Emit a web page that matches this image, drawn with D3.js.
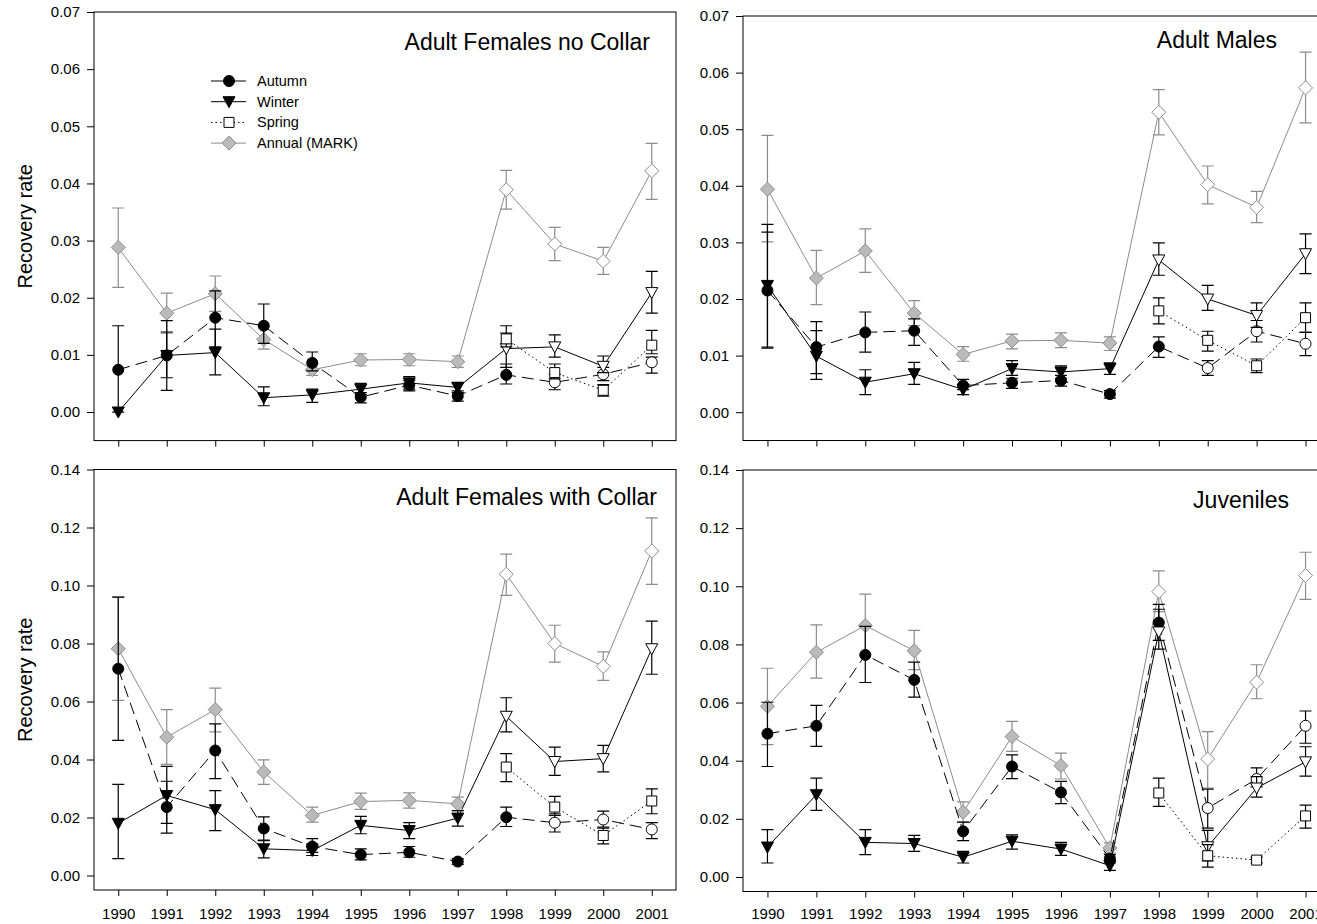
<!DOCTYPE html>
<html>
<head>
<meta charset="utf-8">
<script src="https://cdnjs.cloudflare.com/ajax/libs/d3/7.8.5/d3.min.js"></script>
<style>
    body { margin: 0; background: #fff; }
    svg { display: block; font-family: 'Liberation Sans', Arial, sans-serif; }
</style>
</head>
<body>
<svg id="chart" width="1317" height="924"></svg>
<script>
/* globals d3 */

'use strict';

var years = [1990, 1991, 1992, 1993, 1994, 1995, 1996, 1997, 1998, 1999, 2000, 2001];

// Adult females, no collar
var afncAutumn   = [0.0074, 0.0099, 0.0165, 0.0151, 0.0086, 0.0026, 0.0047, 0.0028, 0.0065, 0.0052, 0.0066, 0.0087];
var afncAutumnLo = [0.0000, 0.0038, 0.0114, 0.0120, 0.0072, 0.0016, 0.0037, 0.0019, 0.0049, 0.0039, 0.0055, 0.0068];
var afncAutumnHi = [0.0151, 0.0160, 0.0212, 0.0189, 0.0105, 0.0034, 0.0055, 0.0037, 0.0084, 0.0066, 0.0078, 0.0096];
var afncWinter   = [0.0000, 0.0099, 0.0104, 0.0025, 0.0030, 0.0040, 0.0051, 0.0043, 0.0111, 0.0114, 0.0080, 0.0209];
var afncWinterLo = [0.0000, 0.0060, 0.0065, 0.0011, 0.0017, 0.0031, 0.0040, 0.0034, 0.0078, 0.0096, 0.0069, 0.0173];
var afncWinterHi = [0.0000, 0.0140, 0.0145, 0.0044, 0.0040, 0.0050, 0.0062, 0.0052, 0.0151, 0.0135, 0.0098, 0.0246];
var afncSpring   = [null, null, null, null, null, null, null, null, 0.0128, 0.0069, 0.0038, 0.0117];
var afncSpringLo = [null, null, null, null, null, null, null, null, 0.0114, 0.0058, 0.0028, 0.0102];
var afncSpringHi = [null, null, null, null, null, null, null, null, 0.0138, 0.0084, 0.0048, 0.0143];
var afncAnnual   = [0.0288, 0.0173, 0.0207, 0.0127, 0.0074, 0.0091, 0.0092, 0.0088, 0.0389, 0.0294, 0.0264, 0.0422];
var afncAnnualLo = [0.0218, 0.0138, 0.0176, 0.0110, 0.0064, 0.0081, 0.0081, 0.0078, 0.0355, 0.0265, 0.0241, 0.0372];
var afncAnnualHi = [0.0357, 0.0208, 0.0238, 0.0151, 0.0084, 0.0102, 0.0102, 0.0098, 0.0423, 0.0323, 0.0288, 0.0470];

// Adult males
var amAutumn   = [0.0215, 0.0115, 0.0141, 0.0144, 0.0047, 0.0052, 0.0056, 0.0032, 0.0116, 0.0078, 0.0143, 0.0121];
var amAutumnLo = [0.0113, 0.0068, 0.0106, 0.0118, 0.0040, 0.0042, 0.0046, 0.0025, 0.0097, 0.0065, 0.0124, 0.0100];
var amAutumnHi = [0.0318, 0.0160, 0.0177, 0.0165, 0.0058, 0.0060, 0.0065, 0.0038, 0.0133, 0.0091, 0.0162, 0.0141];
var amWinter   = [0.0224, 0.0099, 0.0053, 0.0068, 0.0040, 0.0077, 0.0071, 0.0077, 0.0269, 0.0200, 0.0171, 0.0280];
var amWinterLo = [0.0115, 0.0058, 0.0031, 0.0049, 0.0031, 0.0065, 0.0060, 0.0067, 0.0242, 0.0180, 0.0150, 0.0245];
var amWinterHi = [0.0332, 0.0144, 0.0075, 0.0088, 0.0049, 0.0091, 0.0082, 0.0087, 0.0299, 0.0224, 0.0193, 0.0315];
var amSpring   = [null, null, null, null, null, null, null, null, 0.0179, 0.0127, 0.0082, 0.0167];
var amSpringLo = [null, null, null, null, null, null, null, null, 0.0156, 0.0108, 0.0070, 0.0141];
var amSpringHi = [null, null, null, null, null, null, null, null, 0.0202, 0.0143, 0.0094, 0.0193];
var amAnnual   = [0.0394, 0.0237, 0.0285, 0.0175, 0.0102, 0.0126, 0.0127, 0.0122, 0.0530, 0.0402, 0.0362, 0.0573];
var amAnnualLo = [0.0301, 0.0190, 0.0247, 0.0153, 0.0090, 0.0112, 0.0114, 0.0109, 0.0490, 0.0368, 0.0335, 0.0511];
var amAnnualHi = [0.0489, 0.0286, 0.0324, 0.0197, 0.0116, 0.0138, 0.0140, 0.0133, 0.0570, 0.0435, 0.0390, 0.0636];

// Adult females with collar
var afcAutumn   = [0.0713, 0.0236, 0.0431, 0.0162, 0.0100, 0.0072, 0.0080, 0.0048, 0.0201, 0.0182, 0.0193, 0.0159];
var afcAutumnLo = [0.0466, 0.0146, 0.0334, 0.0122, 0.0080, 0.0054, 0.0063, 0.0038, 0.0169, 0.0150, 0.0167, 0.0127];
var afcAutumnHi = [0.0960, 0.0376, 0.0523, 0.0202, 0.0127, 0.0092, 0.0100, 0.0058, 0.0236, 0.0213, 0.0222, 0.0182];
var afcWinter   = [0.0180, 0.0276, 0.0227, 0.0092, 0.0086, 0.0173, 0.0155, 0.0198, 0.0549, 0.0393, 0.0403, 0.0782];
var afcWinterLo = [0.0058, 0.0180, 0.0155, 0.0061, 0.0069, 0.0144, 0.0127, 0.0170, 0.0495, 0.0345, 0.0357, 0.0694];
var afcWinterHi = [0.0314, 0.0325, 0.0293, 0.0120, 0.0109, 0.0204, 0.0182, 0.0224, 0.0613, 0.0443, 0.0449, 0.0877];
var afcSpring   = [null, null, null, null, null, null, null, null, 0.0374, 0.0236, 0.0138, 0.0257];
var afcSpringLo = [null, null, null, null, null, null, null, null, 0.0324, 0.0207, 0.0109, 0.0213];
var afcSpringHi = [null, null, null, null, null, null, null, null, 0.0420, 0.0273, 0.0163, 0.0299];
var afcAnnual   = [0.0782, 0.0477, 0.0572, 0.0357, 0.0207, 0.0255, 0.0259, 0.0247, 0.1039, 0.0800, 0.0721, 0.1119];
var afcAnnualLo = [0.0604, 0.0383, 0.0495, 0.0314, 0.0184, 0.0228, 0.0232, 0.0224, 0.0966, 0.0736, 0.0673, 0.1004];
var afcAnnualHi = [0.0960, 0.0572, 0.0646, 0.0399, 0.0236, 0.0284, 0.0285, 0.0270, 0.1108, 0.0863, 0.0771, 0.1233];

// Juveniles
var juvAutumn   = [0.0493, 0.0520, 0.0764, 0.0678, 0.0157, 0.0380, 0.0291, 0.0063, 0.0875, 0.0237, 0.0337, 0.0520];
var juvAutumnLo = [0.0380, 0.0449, 0.0669, 0.0619, 0.0125, 0.0338, 0.0252, 0.0048, 0.0814, 0.0168, 0.0310, 0.0460];
var juvAutumnHi = [0.0601, 0.0590, 0.0862, 0.0739, 0.0189, 0.0420, 0.0329, 0.0077, 0.0938, 0.0302, 0.0375, 0.0571];
var juvWinter   = [0.0103, 0.0283, 0.0119, 0.0115, 0.0068, 0.0123, 0.0096, 0.0039, 0.0843, 0.0104, 0.0306, 0.0396];
var juvWinterLo = [0.0048, 0.0229, 0.0077, 0.0088, 0.0048, 0.0096, 0.0074, 0.0023, 0.0784, 0.0055, 0.0275, 0.0347];
var juvWinterHi = [0.0163, 0.0340, 0.0163, 0.0143, 0.0088, 0.0145, 0.0119, 0.0054, 0.0921, 0.0160, 0.0345, 0.0448];
var juvSpring   = [null, null, null, null, null, null, null, null, 0.0289, 0.0073, 0.0058, 0.0210];
var juvSpringLo = [null, null, null, null, null, null, null, null, 0.0243, 0.0034, 0.0048, 0.0168];
var juvSpringHi = [null, null, null, null, null, null, null, null, 0.0340, 0.0111, 0.0068, 0.0247];
var juvAnnual   = [0.0587, 0.0773, 0.0865, 0.0778, 0.0223, 0.0483, 0.0383, 0.0100, 0.0982, 0.0406, 0.0670, 0.1037];
var juvAnnualLo = [0.0455, 0.0684, 0.0765, 0.0713, 0.0189, 0.0432, 0.0337, 0.0082, 0.0913, 0.0306, 0.0613, 0.0955];
var juvAnnualHi = [0.0718, 0.0867, 0.0973, 0.0848, 0.0258, 0.0535, 0.0426, 0.0117, 0.1053, 0.0500, 0.0730, 0.1117];

// draw order: annual underneath, then the seasons
var seriesStyles = [
    { key: 'annual', name: 'Annual (MARK)', shape: 'diamond', color: '#8c8c8c', fill: '#bababa', dash: null, openFrom: 1998 },
    { key: 'autumn', name: 'Autumn', shape: 'circle', color: '#000', fill: '#000', dash: '12,6', openFrom: 1999 },
    { key: 'winter', name: 'Winter', shape: 'triangle', color: '#000', fill: '#000', dash: null, openFrom: 1998 },
    { key: 'spring', name: 'Spring', shape: 'square', color: '#000', fill: '#fff', dash: '1.5,3', openFrom: 1990 }
];
var legendOrder = ['autumn', 'winter', 'spring', 'annual'];

var panels = [
    {
        title: 'Adult Females no Collar', titleX: 650, titleY: 50,
        left: 94, right: 676, top: 12, bottom: 440.6, yMax: 0.07, yStep: 0.01,
        yTitle: true, xLabels: false, legend: true,
        autumn: [afncAutumn, afncAutumnLo, afncAutumnHi],
        winter: [afncWinter, afncWinterLo, afncWinterHi],
        spring: [afncSpring, afncSpringLo, afncSpringHi],
        annual: [afncAnnual, afncAnnualLo, afncAnnualHi]
    },
    {
        title: 'Adult Males', titleX: 1277, titleY: 48,
        left: 743, right: 1330, top: 16, bottom: 440.5, yMax: 0.07, yStep: 0.01,
        yTitle: false, xLabels: false, legend: false,
        autumn: [amAutumn, amAutumnLo, amAutumnHi],
        winter: [amWinter, amWinterLo, amWinterHi],
        spring: [amSpring, amSpringLo, amSpringHi],
        annual: [amAnnual, amAnnualLo, amAnnualHi]
    },
    {
        title: 'Adult Females with Collar', titleX: 657, titleY: 505,
        left: 94, right: 676, top: 469.5, bottom: 890, yMax: 0.14, yStep: 0.02,
        yTitle: true, xLabels: true, legend: false,
        autumn: [afcAutumn, afcAutumnLo, afcAutumnHi],
        winter: [afcWinter, afcWinterLo, afcWinterHi],
        spring: [afcSpring, afcSpringLo, afcSpringHi],
        annual: [afcAnnual, afcAnnualLo, afcAnnualHi]
    },
    {
        title: 'Juveniles', titleX: 1289, titleY: 508,
        left: 743, right: 1330, top: 470, bottom: 891.5, yMax: 0.14, yStep: 0.02,
        yTitle: false, xLabels: true, legend: false,
        autumn: [juvAutumn, juvAutumnLo, juvAutumnHi],
        winter: [juvWinter, juvWinterLo, juvWinterHi],
        spring: [juvSpring, juvSpringLo, juvSpringHi],
        annual: [juvAnnual, juvAnnualLo, juvAnnualHi]
    }
];

var svg = d3.select('#chart');

function markerPath(shape) {
    if (shape === 'circle') return 'M-5.5,0A5.5,5.5 0 1,0 5.5,0A5.5,5.5 0 1,0 -5.5,0Z';
    if (shape === 'triangle') return 'M-6,-5L6,-5L0,6Z';
    if (shape === 'square') return 'M-5,-5H5V5H-5Z';
    return 'M0,-7L7,0L0,7L-7,0Z';
}

function markerFill(style, year) {
    return year >= style.openFrom ? '#fff' : style.fill;
}

panels.forEach(function(p) {
    var x = d3.scaleLinear().domain([1989.5, 2001.5]).range([p.left, p.right]);
    var y = d3.scaleLinear().domain([-0.005, p.yMax]).range([p.bottom, p.top]);
    var g = svg.append('g');

    var yAxis = d3.axisLeft(y)
        .tickValues(d3.range(0, p.yMax + p.yStep / 2, p.yStep))
        .tickSize(7)
        .tickPadding(7)
        .tickFormat(d3.format('.2f'));
    g.append('g')
        .attr('transform', 'translate(' + p.left + ',0)')
        .call(yAxis)
        .call(function(a) { a.select('.domain').remove(); });

    var xAxis = d3.axisBottom(x)
        .tickValues(years)
        .tickSize(6)
        .tickPadding(12 - (p.bottom - 890))
        .tickFormat(p.xLabels ? d3.format('d') : function() { return ''; });
    g.append('g')
        .attr('transform', 'translate(0,' + p.bottom + ')')
        .call(xAxis)
        .call(function(a) { a.select('.domain').remove(); });

    g.selectAll('.tick text')
        .style('font-size', '15px')
        .style('font-family', "'Liberation Sans', Arial, sans-serif")
        .attr('fill', '#000');
    g.selectAll('.tick line').attr('stroke', '#000');

    g.append('rect')
        .attr('x', p.left)
        .attr('y', p.top)
        .attr('width', p.right - p.left)
        .attr('height', p.bottom - p.top)
        .attr('fill', 'none')
        .attr('stroke', '#000')
        .attr('stroke-width', 1);

    if (p.yTitle) {
        g.append('text')
            .attr('transform', 'translate(32,' + ((p.top + p.bottom) / 2) + ') rotate(-90)')
            .attr('text-anchor', 'middle')
            .style('font-size', '20px')
            .text('Recovery rate');
    }

    g.append('text')
        .attr('x', p.titleX)
        .attr('y', p.titleY)
        .attr('text-anchor', 'end')
        .style('font-size', '23px')
        .text(p.title);

    seriesStyles.forEach(function(s) {
        var rows = years.map(function(yr, i) {
            return { year: yr, v: p[s.key][0][i], lo: p[s.key][1][i], hi: p[s.key][2][i] };
        }).filter(function(d) { return d.v !== null; });

        var line = d3.line()
            .x(function(d) { return x(d.year); })
            .y(function(d) { return y(d.v); });

        g.append('path')
            .datum(rows)
            .attr('d', line)
            .attr('fill', 'none')
            .attr('stroke', s.color)
            .attr('stroke-width', 1)
            .attr('stroke-dasharray', s.dash);

        g.selectAll('.bar-' + s.key)
            .data(rows.filter(function(d) { return d.hi > d.lo; }))
            .enter().append('path')
            .attr('class', 'bar-' + s.key)
            .attr('fill', 'none')
            .attr('stroke', s.color)
            .attr('stroke-width', 1.2)
            .attr('d', function(d) {
                var cx = x(d.year), y0 = y(d.lo), y1 = y(d.hi);
                return 'M' + cx + ',' + y0 + 'V' + y1 +
                    'M' + (cx - 6) + ',' + y1 + 'H' + (cx + 6) +
                    'M' + (cx - 6) + ',' + y0 + 'H' + (cx + 6);
            });

        g.selectAll('.mark-' + s.key)
            .data(rows)
            .enter().append('path')
            .attr('class', 'mark-' + s.key)
            .attr('transform', function(d) { return 'translate(' + x(d.year) + ',' + y(d.v) + ')'; })
            .attr('d', markerPath(s.shape))
            .attr('fill', function(d) { return markerFill(s, d.year); })
            .attr('stroke', s.color)
            .attr('stroke-width', 1);
    });

    if (p.legend) {
        var legend = g.append('g');
        legendOrder.forEach(function(key, i) {
            var s = seriesStyles.filter(function(t) { return t.key === key; })[0];
            var ly = 81 + i * 20.7;
            legend.append('line')
                .attr('x1', 211).attr('x2', 246)
                .attr('y1', ly).attr('y2', ly)
                .attr('stroke', s.color)
                .attr('stroke-width', 1)
                .attr('stroke-dasharray', s.key === 'spring' ? s.dash : null);
            legend.append('path')
                .attr('transform', 'translate(229,' + ly + ')')
                .attr('d', markerPath(s.shape))
                .attr('fill', s.fill)
                .attr('stroke', s.color);
            legend.append('text')
                .attr('x', 257)
                .attr('y', ly)
                .attr('dy', '0.35em')
                .style('font-size', '14.5px')
                .text(s.name);
        });
    }
});
</script>
</body>
</html>
